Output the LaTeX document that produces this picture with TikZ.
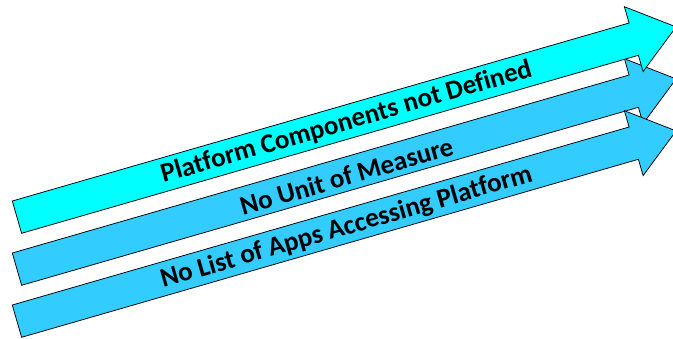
\documentclass[tikz,border=0pt]{standalone}
\usepackage{fontspec}
\setmainfont{Carlito}[Ligatures=CommonOff]
\definecolor{arrowcyan}{HTML}{00FFFF}
\definecolor{arrowblue}{HTML}{33CCFF}
\tikzset{
  bigarrow/.style={draw=black, line width=0.75pt, line join=miter},
  arrowlabel/.style={font=\fontsize{27}{30}\selectfont\bfseries, text=black, rotate=16.1, inner sep=0pt}
}
\begin{document}
\begin{tikzpicture}[x=1pt,y=-1pt]
\useasboundingbox (0,0) rectangle (673,338);
% arrow shape vertices (pixel coordinates, y downward)
\newcommand{\myarrowpath}{(12.3,201) -- (629.1,23.0) -- (624.4,6.7) -- (676.1,26.9) -- (643.1,71.6) -- (638.4,55.3) -- (21.6,233.3) -- cycle}
% arrow 2 (behind)
\begin{scope}[shift={(0,52)}]
  \fill[arrowblue] \myarrowpath;
  \draw[bigarrow] \myarrowpath;
\end{scope}
% arrow 1
\fill[arrowcyan] \myarrowpath;
\draw[bigarrow] \myarrowpath;
% arrow 3
\begin{scope}[shift={(0,104)}]
  \fill[arrowblue] \myarrowpath;
  \draw[bigarrow] \myarrowpath;
\end{scope}
\node[arrowlabel] (t1) at (346.5,122.5) {Platform Components not Defined};
\node[arrowlabel] (t2) at (346.5,176) {No Unit of Measure};
\node[arrowlabel] (t3) at (346.5,227.5) {No List of Apps Accessing Platform};
\end{tikzpicture}
\end{document}
